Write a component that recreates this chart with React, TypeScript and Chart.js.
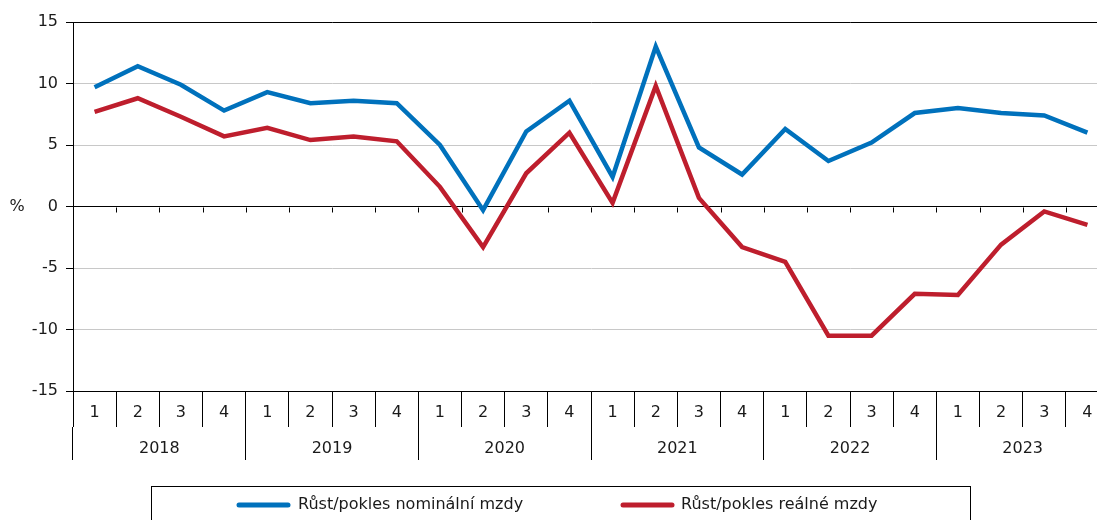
import React, { useEffect, useRef } from 'react';
import { Chart, registerables } from 'chart.js';

Chart.register(...registerables);

const quarters = ['1', '2', '3', '4', '1', '2', '3', '4', '1', '2', '3', '4', '1', '2', '3', '4', '1', '2', '3', '4', '1', '2', '3', '4'];
const years = ['2018', '2019', '2020', '2021', '2022', '2023'];
const nominal = [9.7, 11.4, 9.9, 7.8, 9.3, 8.4, 8.6, 8.4, 5.0, -0.3, 6.1, 8.6, 2.4, 13.0, 4.8, 2.6, 6.3, 3.7, 5.2, 7.6, 8.0, 7.6, 7.4, 6.0];
const real = [7.7, 8.8, 7.3, 5.7, 6.4, 5.4, 5.7, 5.3, 1.6, -3.3, 2.7, 6.0, 0.3, 9.8, 0.7, -3.3, -4.5, -10.5, -10.5, -7.1, -7.2, -3.1, -0.4, -1.5];
const seriesNames = ['Růst/pokles nominální mzdy', 'Růst/pokles reálné mzdy'];
const seriesColors = ['#0071BC', '#BE1E2D'];
const yMin = -15;
const yMax = 15;
const yStep = 5;
const unitLabel = '%';

const FONT = '"DejaVu Sans", sans-serif';
const TEXT = '#1a1a1a';

const decor = {
  id: 'decor',
  beforeDatasetsDraw(chart: any) {
    const { ctx, chartArea, scales } = chart;
    const xs = scales.x;
    const y0 = Math.round(scales.y.getPixelForValue(0)) + 0.5;
    const n = quarters.length;
    const w = (chartArea.right - chartArea.left) / n;
    ctx.save();
    ctx.strokeStyle = '#000';
    ctx.lineWidth = 1;
    ctx.beginPath();
    for (let i = 1; i < n; i++) {
      const x = Math.round(xs.getPixelForValue(i) - w / 2) + 0.5;
      ctx.moveTo(x, y0);
      ctx.lineTo(x, y0 + 5);
    }
    ctx.stroke();
    ctx.restore();
  },
  afterDraw(chart: any) {
    const { ctx, scales } = chart;
    ctx.save();
    ctx.font = `16px ${FONT}`;
    ctx.fillStyle = TEXT;
    ctx.textAlign = 'center';
    ctx.textBaseline = 'middle';
    ctx.fillText(unitLabel, 17, scales.y.getPixelForValue(0));

    // legend box
    ctx.strokeStyle = '#000';
    ctx.lineWidth = 1;
    ctx.strokeRect(151.5, 486.5, 819, 60);
    const items = [
      { x1: 239, x2: 288, tx: 298 },
      { x1: 623, x2: 672, tx: 681 },
    ];
    chart.data.datasets.forEach((ds: any, i: number) => {
      const it = items[i];
      const y = 505;
      ctx.strokeStyle = ds.borderColor;
      ctx.lineWidth = 5;
      ctx.lineCap = 'round';
      ctx.beginPath();
      ctx.moveTo(it.x1, y);
      ctx.lineTo(it.x2, y);
      ctx.stroke();
      ctx.fillStyle = TEXT;
      ctx.textAlign = 'left';
      ctx.fillText(ds.label, it.tx, y);
    });
    ctx.restore();
  },
};

export default function App() {
  const ref = useRef<HTMLCanvasElement | null>(null);
  useEffect(() => {
    if (!ref.current) return;
    const chart = new Chart(ref.current, {
      type: 'line',
      data: {
        labels: quarters,
        datasets: [
          {
            label: seriesNames[0],
            data: nominal,
            borderColor: seriesColors[0],
            backgroundColor: seriesColors[0],
            borderWidth: 4.5,
            pointRadius: 0,
            tension: 0,
          },
          {
            label: seriesNames[1],
            data: real,
            borderColor: seriesColors[1],
            backgroundColor: seriesColors[1],
            borderWidth: 4.5,
            pointRadius: 0,
            tension: 0,
          },
        ],
      },
      options: {
        animation: false,
        responsive: false,
        devicePixelRatio: 1,
        layout: { padding: { left: 0, right: 3, top: 22, bottom: 60 } },
        plugins: {
          legend: { display: false },
          tooltip: { enabled: false },
        },
        scales: {
          y: {
            min: yMin,
            max: yMax,
            ticks: {
              stepSize: yStep,
              padding: 8,
              color: TEXT,
              font: { family: FONT, size: 16 },
            },
            grid: {
              color: (c: any) => ([0, 15, -15].includes(c.tick?.value) ? '#000' : '#c8c8c8'),
              lineWidth: 1,
              tickColor: '#000',
              tickLength: 7,
            },
            border: { color: '#000', width: 1 },
            afterFit(s: any) {
              s.width = 73;
            },
          },
          x: {
            type: 'category',
            offset: true,
            weight: 0,
            ticks: {
              padding: -23.6,
              color: TEXT,
              maxRotation: 0,
              autoSkip: false,
              font: { family: FONT, size: 16 },
            },
            grid: {
              offset: true,
              drawOnChartArea: false,
              tickLength: 36,
              color: '#000',
              tickColor: '#000',
            },
            border: { color: '#000', width: 1 },
            afterFit(s: any) {
              s.height = 36;
            },
          },
          x2: {
            type: 'category',
            labels: years,
            offset: true,
            position: 'bottom',
            weight: 1,
            ticks: {
              padding: -20.6,
              color: TEXT,
              maxRotation: 0,
              autoSkip: false,
              font: { family: FONT, size: 16 },
            },
            grid: {
              offset: true,
              drawOnChartArea: false,
              tickLength: 33,
              color: '#000',
              tickColor: '#000',
            },
            border: { display: false },
            afterFit(s: any) {
              s.height = 33;
            },
          },
        },
      } as any,
      plugins: [decor],
    });
    return () => chart.destroy();
  }, []);

  return (
    <div
      style={{
        position: 'fixed',
        left: 0,
        top: 0,
        width: 1097,
        height: 520,
        overflow: 'hidden',
        background: '#fff',
      }}
    >
      <canvas ref={ref} width={1112} height={520} style={{ display: 'block', width: 1112, height: 520 }} />
    </div>
  );
}
